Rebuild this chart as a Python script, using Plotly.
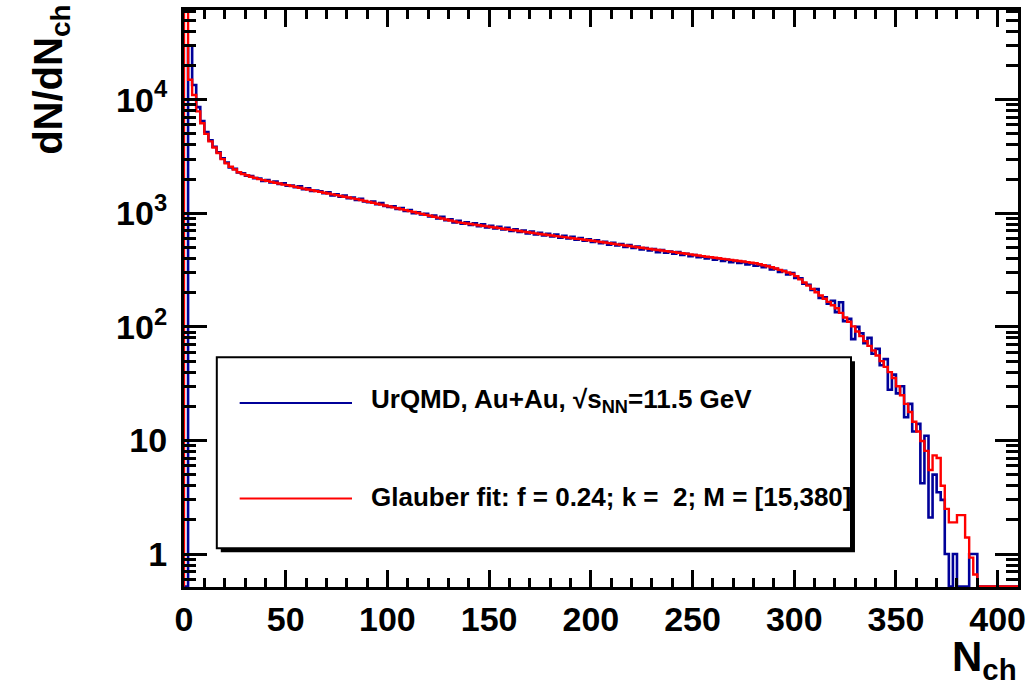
import plotly.graph_objects as go

# Multiplicity histogram: 2-unit bins from 0 to 410
bin_edges = list(range(0, 412, 2))

# UrQMD Au+Au, sqrt(s_NN)=11.5 GeV, dN/dN_ch per bin
urqmd_counts = [
    0, 30000, 13500, 8600, 6500, 5200, 4400, 3850, 3450, 3050,
    2800, 2540, 2460, 2290, 2250, 2140, 2130, 2040, 2020, 1930,
    1960, 1870, 1900, 1810, 1840, 1750, 1760, 1700, 1730, 1630,
    1660, 1570, 1590, 1560, 1500, 1530, 1440, 1470, 1400, 1430,
    1360, 1380, 1310, 1340, 1270, 1250, 1270, 1200, 1230, 1160,
    1140, 1150, 1090, 1110, 1050, 1070, 1000, 1020, 975, 990,
    940, 955, 900, 930, 870, 885, 830, 860, 810, 835,
    790, 815, 770, 800, 750, 775, 735, 760, 720, 745,
    700, 725, 685, 705, 665, 690, 650, 675, 640, 660,
    625, 650, 610, 635, 600, 620, 585, 605, 575, 590,
    560, 580, 545, 560, 530, 550, 520, 535, 505, 525,
    495, 510, 480, 495, 470, 485, 455, 475, 450, 460,
    440, 455, 430, 440, 420, 430, 410, 415, 400, 410,
    390, 400, 380, 390, 372, 380, 365, 372, 355, 362,
    345, 350, 335, 345, 320, 325, 305, 312, 290, 298,
    270, 268, 240, 235, 212, 215, 180, 182, 160, 170,
    135, 165, 112, 118, 78, 100, 88, 72, 80, 58,
    64, 46, 52, 28, 38, 26, 30, 16, 21, 12,
    14, 4.2, 11, 2.1, 5, 3.5, 3, 1, 0, 1,
    0, 0, 0, 1, 1, 0, 0, 0, 0, 0,
    0, 0, 0, 0, 0,
]

# Glauber fit histogram
glauber_counts = [
    90000, 15000, 11000, 7900, 6200, 5000, 4300, 3800, 3400, 3000,
    2750, 2570, 2430, 2300, 2220, 2160, 2100, 2050, 2000, 1960,
    1930, 1890, 1860, 1830, 1790, 1770, 1740, 1710, 1680, 1650,
    1620, 1594, 1568, 1543, 1518, 1493, 1469, 1445, 1422, 1399,
    1376, 1354, 1332, 1308, 1284, 1261, 1238, 1215, 1193, 1171,
    1150, 1128, 1107, 1086, 1066, 1046, 1026, 1007, 988, 969,
    951, 933, 916, 899, 882, 865, 849, 833, 823, 814,
    804, 795, 785, 776, 767, 758, 749, 741, 732, 723,
    715, 707, 698, 690, 682, 674, 666, 658, 651, 644,
    637, 630, 624, 617, 611, 604, 598, 592, 585, 579,
    573, 566, 559, 553, 546, 540, 533, 527, 521, 515,
    509, 503, 497, 491, 486, 480, 475, 470, 465, 460,
    455, 450, 445, 440, 435, 430, 425, 420, 415, 411,
    406, 402, 397, 393, 389, 384, 380, 376, 372, 367,
    363, 356, 349, 342, 335, 327, 318, 309, 301, 292,
    280, 262, 246, 231, 216, 202, 189, 177, 166, 155,
    146, 133, 121, 111, 101, 91, 83, 75, 68, 62,
    56, 50, 44.5, 40, 35.5, 30, 25, 21, 17.8, 14.6,
    12, 9.9, 8.1, 5.5, 7.4, 7.0, 4.0, 2.5, 1.9, 1.9,
    2.2, 2.2, 1.4, 0.93, 0.66, 0, 0, 0, 0, 0,
    0, 0, 0, 0, 0,
]

x_tick_vals = [0, 50, 100, 150, 200, 250, 300, 350, 400]
y_tick_vals = [1, 10, 100, 1000, 10000]
y_tick_text = ["1", "10", "10<sup>2</sup>", "10<sup>3</sup>", "10<sup>4</sup>"]

legend_labels = [
    "UrQMD, Au+Au, \u221as<sub>NN</sub>=11.5 GeV",
    "Glauber fit: f = 0.24; k =\u00a0 2; M = [15,380]",
]

W, H = 1033, 687
ML, MR, MT, MB = 184, 10, 7, 100
X_RANGE = [0, 410]
Y_RANGE = [-0.29, 4.79]
FLOOR = 10 ** Y_RANGE[0] * 1.01
FONT = "Liberation Sans"


def step_xy(edges, counts):
    """Histogram outline: start from the floor, one level per bin."""
    ys = [c if c > 0 else FLOOR for c in counts]
    xs = [edges[0]] + list(edges)
    ys = [FLOOR] + ys + [ys[-1]]
    return xs, ys


def px(x):
    return (x - ML) / (W - ML - MR)


def py(y):
    return (H - MB - y) / (H - MT - MB)


fig = go.Figure()

xb, yb = step_xy(bin_edges, urqmd_counts)
fig.add_trace(go.Scatter(x=xb, y=yb, mode="lines", line=dict(color="#000099", width=2.6, shape="hv"),
                         showlegend=False, hoverinfo="skip"))
xr, yr = step_xy(bin_edges, glauber_counts)
fig.add_trace(go.Scatter(x=xr, y=yr, mode="lines", line=dict(color="#ff0000", width=2.4, shape="hv"),
                         showlegend=False, hoverinfo="skip"))

tick_font = dict(family=FONT, size=34, color="black", weight="bold")

minor_y = [m * 10 ** k for k in range(-1, 5) for m in range(2, 10)]
minor_y = [v for v in minor_y if 10 ** Y_RANGE[0] < v < 10 ** Y_RANGE[1] and v not in y_tick_vals]

fig.update_xaxes(
    range=X_RANGE, tickvals=x_tick_vals, ticks="inside", ticklen=17, tickwidth=2.5,
    tickcolor="black", showline=True, linecolor="black", linewidth=3, mirror="allticks",
    showgrid=False, zeroline=False, tickfont=tick_font, ticklabelstandoff=0,
    minor=dict(tickvals=list(range(10, 410, 10)), ticks="inside", ticklen=9, tickwidth=2.5,
               tickcolor="black", showgrid=False),
)
fig.update_yaxes(
    type="log", range=Y_RANGE, tickvals=y_tick_vals, ticktext=y_tick_text, ticks="inside",
    ticklen=23, tickwidth=2.5, tickcolor="black", showline=True, linecolor="black", linewidth=3,
    mirror="allticks", showgrid=False, zeroline=False, tickfont=tick_font, ticklabelstandoff=7,
    minor=dict(tickvals=minor_y, ticks="inside", ticklen=12, tickwidth=2.5, tickcolor="black",
               showgrid=False),
)

shapes = []
# legend frame with drop shadow
shapes.append(dict(type="rect", xref="paper", yref="paper", x0=px(221), x1=px(859), y0=py(552), y1=py(360),
                   fillcolor="black", line=dict(width=0), layer="above"))
shapes.append(dict(type="rect", xref="paper", yref="paper", x0=px(217), x1=px(855), y0=py(548), y1=py(356),
                   fillcolor="white", line=dict(color="black", width=2), layer="above"))
shapes.append(dict(type="line", xref="paper", yref="paper", x0=px(240), x1=px(353), y0=py(402), y1=py(402),
                   line=dict(color="#000099", width=2), layer="above"))
shapes.append(dict(type="line", xref="paper", yref="paper", x0=px(240), x1=px(353), y0=py(498), y1=py(498),
                   line=dict(color="#ff0000", width=2), layer="above"))

annotations = []
for label, ypix in zip(legend_labels, [400, 497]):
    annotations.append(dict(text=label, xref="paper", yref="paper", x=px(370), y=py(ypix),
                            xanchor="left", yanchor="middle", showarrow=False,
                            font=dict(family=FONT, size=26, color="black", weight="bold")))

annotations.append(dict(text="dN/dN<sub>ch</sub>", xref="paper", yref="paper", x=px(50), y=py(0),
                        xanchor="center", yanchor="top", textangle=-90, showarrow=False,
                        font=dict(family=FONT, size=40, color="black", weight="bold")))
annotations.append(dict(text="N<sub>ch</sub>", xref="paper", yref="paper", x=px(1024), y=py(689),
                        xanchor="right", yanchor="bottom", showarrow=False,
                        font=dict(family=FONT, size=42, color="black", weight="bold")))

fig.update_layout(
    width=W, height=H, margin=dict(l=ML, r=MR, t=MT, b=MB),
    paper_bgcolor="white", plot_bgcolor="white",
    shapes=shapes, annotations=annotations, showlegend=False,
)

fig.write_html("out.html")
